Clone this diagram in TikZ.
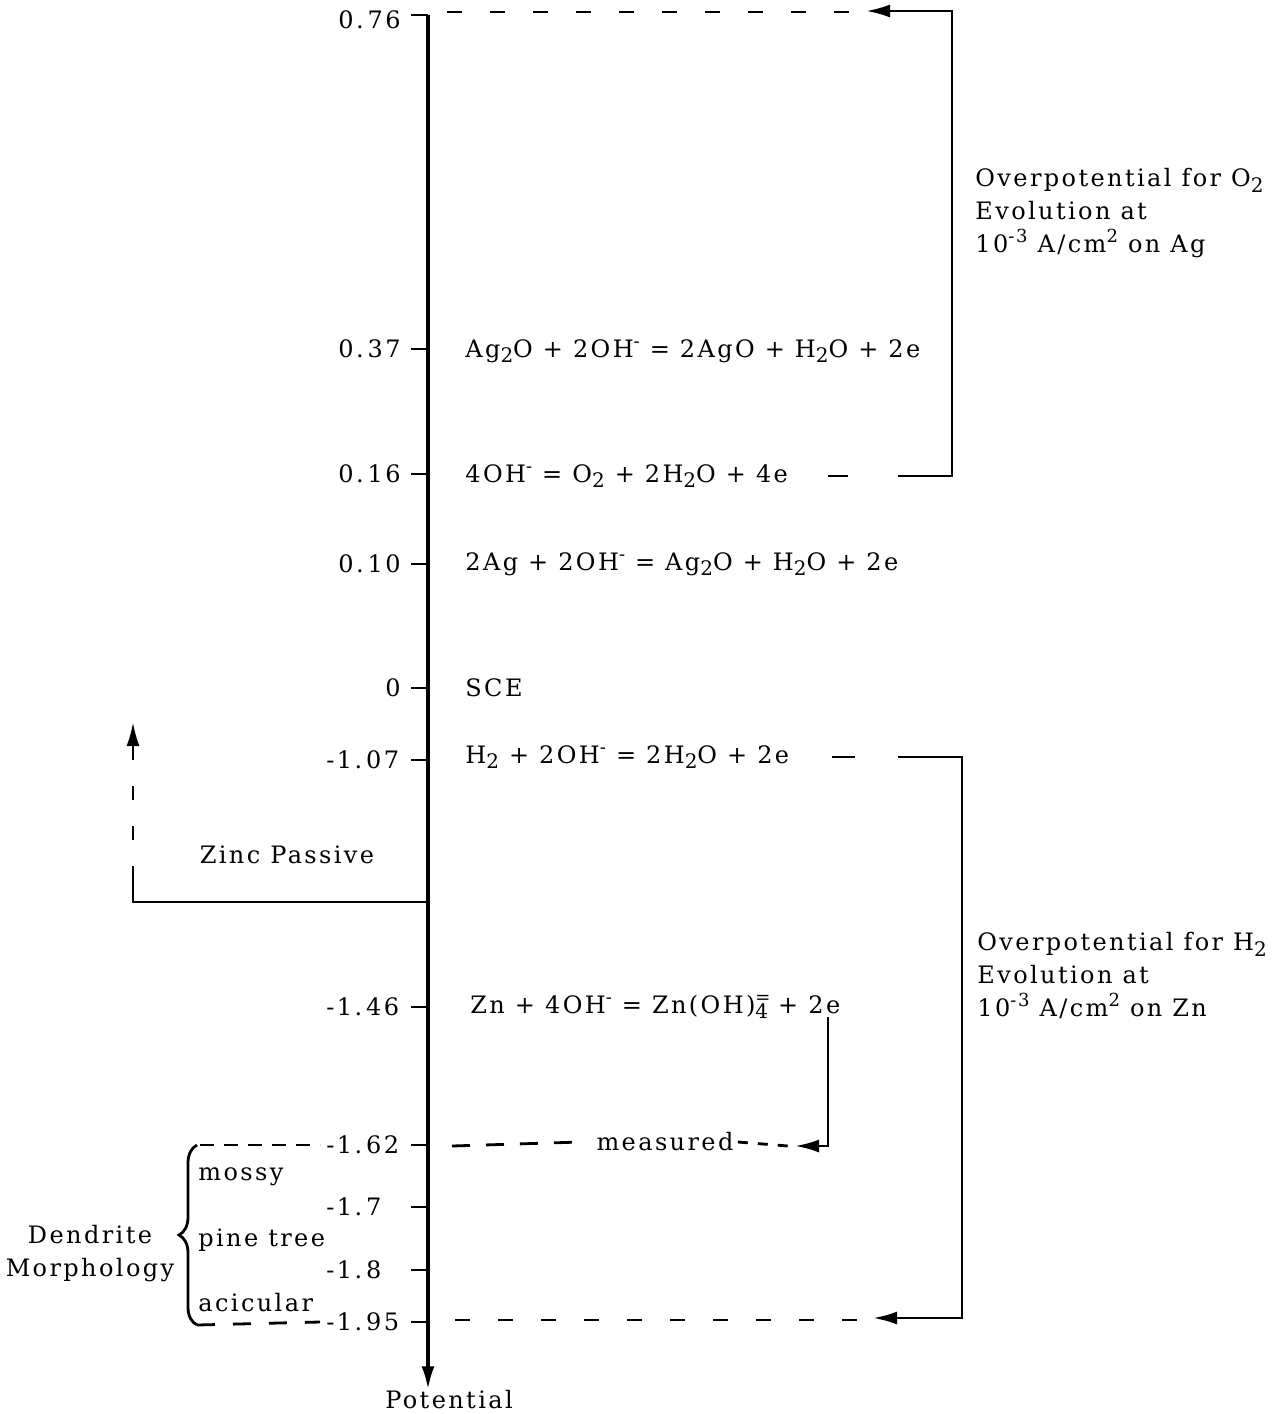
\documentclass[tikz,border=0pt]{standalone}
\usepackage{fontspec}
\setmainfont{DejaVu Serif}[LetterSpace=10]
\usetikzlibrary{arrows.meta,decorations.pathreplacing}
\newcommand{\chsub}[1]{\raisebox{-0.45ex}{\fontsize{10}{10}\selectfont#1}}
\newcommand{\chsup}[1]{\raisebox{0.8ex}{\fontsize{9}{9}\selectfont#1}}
\tikzset{
  >={Latex[length=12pt,width=6.5pt]},
  axisline/.style={line width=2pt},
  bar/.style={line width=1.4pt},
  dashline/.style={line width=1.4pt,dash pattern=on 7.5pt off 14pt},
  txt/.style={font=\fontsize{12}{16.5}\selectfont,inner sep=0pt},
  val/.style={txt},
  eqn/.style={txt,anchor=base west},
}
\begin{document}
\begin{tikzpicture}[x=0.5pt,y=-0.5pt]
  \useasboundingbox (0,0) rectangle (1287,1414);
  % axis and values
  \coordinate (top) at (428,15);
  \node[txt] (pot) at (449,1400) {Potential};
  \draw[axisline,->] (top) -- (pot.north -| top);
  \draw[bar] (411,15) -- (top);
  \foreach \y/\t [count=\i] in {20/0.\,76,349/0.\,37,474/0.\,16,564/0.\,10,688/0}{
    \node[val,anchor=east] (p\i) at (401,\y) {\t};
  }
  \foreach \y in {349,474,564,688}
    \draw[bar] (411,\y) -- (428,\y);
  \foreach \y/\t [count=\i] in {760/-1.\,07,1007/-1.\,46,1145/-1.\,62,1207/-1.\,7,1270/-1.\,8,1322/-1.\,95}{
    \node[val,anchor=west] (n\i) at (326,\y) {\t};
    \draw[bar] (411,\y) -- (428,\y);
  }
  % reactions
  \node[eqn] (r1) at (465,357) {Ag\chsub{2}O + 2OH\chsup{-} = 2AgO + H\chsub{2}O + 2e};
  \node[eqn] (r2) at (465,482) {4OH\chsup{-} = O\chsub{2} + 2H\chsub{2}O + 4e};
  \node[eqn] (r3) at (465,570) {2Ag + 2OH\chsup{-} = Ag\chsub{2}O + H\chsub{2}O + 2e};
  \node[eqn] (sce) at (465,696) {SCE};
  \node[eqn] (r4) at (465,763) {H\chsub{2} + 2OH\chsup{-} = 2H\chsub{2}O + 2e};
  \node[eqn] (r5) at (470,1013) {Zn + 4OH\chsup{-} = Zn(OH)\rlap{\chsup{=}}\chsub{4} + 2e};
  % O2 overpotential
  \coordinate (o2tip) at (866,11);
  \draw[dashline] (447,12) -- (852,12);
  \draw[bar] (828,476) -- (848,476);
  \draw[bar,->] (898,476) -| (952,11) -- (o2tip);
  \node[txt,anchor=north west,align=left] (o2lbl) at (975,168)
    {Overpotential for O\chsub{2}\\Evolution at\\10\chsup{-3} A/cm\chsup{2} on Ag};
  % H2 overpotential
  \coordinate (h2tip) at (873,1318);
  \draw[bar] (832,757) -- (855,757);
  \draw[bar,->] (898,757) -| (962,1318) -- (h2tip);
  \draw[dashline] (455,1320) -- (860,1320);
  \node[txt,anchor=north west,align=left] (h2lbl) at (977,932)
    {Overpotential for H\chsub{2}\\Evolution at\\10\chsup{-3} A/cm\chsup{2} on Zn};
  % measured
  \node[txt] (meas) at (665,1142) {measured};
  \coordinate (zntip) at (795,1146);
  \draw[bar,->] (828,1017) |- (zntip);
  \draw[dashline,dash pattern=on 9pt off 8pt] (452,1146) -- ([xshift=-8pt]meas.west);
  \draw[bar,dash pattern=on 5pt off 5pt] ([xshift=2pt]meas.east) -- (788,1146);
  % zinc passive
  \node[txt] (zp) at (287,855) {Zinc Passive};
  \draw[bar] (428,902) -| (133,880);
  \draw[bar,dash pattern=on 7pt off 13pt,->] (133,880) -- (133,722);
  % dendrites
  \node[txt,align=center] (dend) at (90,1254) {Dendrite\\Morphology};
  \draw[bar,decorate,decoration={brace,amplitude=9pt}] (197,1325) -- (197,1145);
  \draw[bar,dash pattern=on 7pt off 5pt] (200,1145) -- ([xshift=-3pt]n3.west);
  \draw[dashline,dash pattern=on 9pt off 9pt] (197,1325) -- ([xshift=-3pt]n6.west);
  \foreach \y/\t in {1177/mossy,1240/pine tree,1303/acicular}
    \node[txt,anchor=west] at (198,\y) {\t};
\end{tikzpicture}
\end{document}
